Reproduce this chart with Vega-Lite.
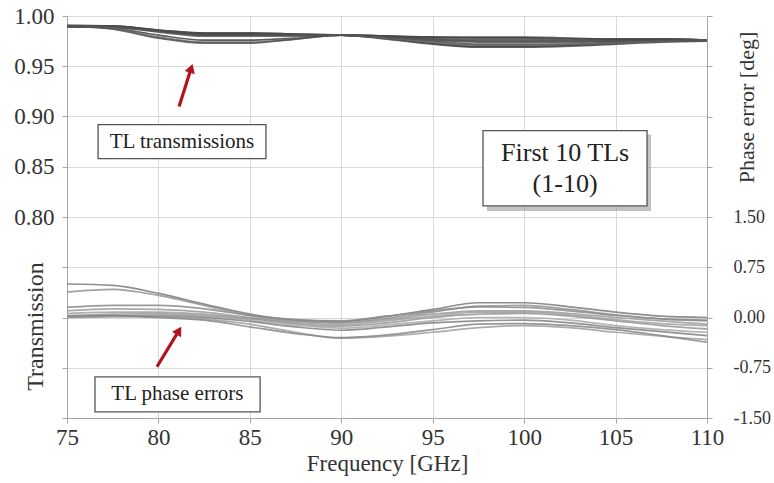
{
  "$schema": "https://vega.github.io/schema/vega-lite/v6.json",
  "width": 640,
  "height": 402,
  "autosize": {"type": "none"},
  "padding": {"left": 67, "top": 16, "right": 67, "bottom": 65},
  "background": "white",
  "config": {
    "view": {"stroke": null},
    "font": "Liberation Serif",
    "axis": {
      "labelFont": "Liberation Serif",
      "titleFont": "Liberation Serif",
      "labelColor": "#333333",
      "titleColor": "#333333",
      "titleFontWeight": "normal",
      "domainColor": "#a6a6a6",
      "tickColor": "#a6a6a6",
      "gridColor": "#d9d9d9",
      "labelFlush": false,
      "labelOverlap": false
    }
  },
  "datasets": {
    "trans": [
      {"f":75,"s":"T1","v":0.990},{"f":77.5,"s":"T1","v":0.990},{"f":80,"s":"T1","v":0.986},{"f":82.5,"s":"T1","v":0.983},{"f":85,"s":"T1","v":0.983},{"f":87.5,"s":"T1","v":0.982},{"f":90,"s":"T1","v":0.981},{"f":92.5,"s":"T1","v":0.980},{"f":95,"s":"T1","v":0.979},{"f":97.5,"s":"T1","v":0.978},{"f":100,"s":"T1","v":0.978},{"f":102.5,"s":"T1","v":0.977},{"f":105,"s":"T1","v":0.977},{"f":107.5,"s":"T1","v":0.977},{"f":110,"s":"T1","v":0.976},
      {"f":75,"s":"T2","v":0.990},{"f":77.5,"s":"T2","v":0.990},{"f":80,"s":"T2","v":0.986},{"f":82.5,"s":"T2","v":0.983},{"f":85,"s":"T2","v":0.983},{"f":87.5,"s":"T2","v":0.982},{"f":90,"s":"T2","v":0.981},{"f":92.5,"s":"T2","v":0.978},{"f":95,"s":"T2","v":0.973},{"f":97.5,"s":"T2","v":0.970},{"f":100,"s":"T2","v":0.970},{"f":102.5,"s":"T2","v":0.971},{"f":105,"s":"T2","v":0.973},{"f":107.5,"s":"T2","v":0.975},{"f":110,"s":"T2","v":0.976},
      {"f":75,"s":"T3","v":0.991},{"f":77.5,"s":"T3","v":0.990},{"f":80,"s":"T3","v":0.985},{"f":82.5,"s":"T3","v":0.982},{"f":85,"s":"T3","v":0.982},{"f":87.5,"s":"T3","v":0.981},{"f":90,"s":"T3","v":0.981},{"f":92.5,"s":"T3","v":0.980},{"f":95,"s":"T3","v":0.977},{"f":97.5,"s":"T3","v":0.976},{"f":100,"s":"T3","v":0.976},{"f":102.5,"s":"T3","v":0.976},{"f":105,"s":"T3","v":0.976},{"f":107.5,"s":"T3","v":0.977},{"f":110,"s":"T3","v":0.976},
      {"f":75,"s":"T4","v":0.990},{"f":77.5,"s":"T4","v":0.990},{"f":80,"s":"T4","v":0.985},{"f":82.5,"s":"T4","v":0.982},{"f":85,"s":"T4","v":0.982},{"f":87.5,"s":"T4","v":0.981},{"f":90,"s":"T4","v":0.981},{"f":92.5,"s":"T4","v":0.977},{"f":95,"s":"T4","v":0.972},{"f":97.5,"s":"T4","v":0.969},{"f":100,"s":"T4","v":0.969},{"f":102.5,"s":"T4","v":0.970},{"f":105,"s":"T4","v":0.972},{"f":107.5,"s":"T4","v":0.974},{"f":110,"s":"T4","v":0.975},
      {"f":75,"s":"T5","v":0.990},{"f":77.5,"s":"T5","v":0.989},{"f":80,"s":"T5","v":0.985},{"f":82.5,"s":"T5","v":0.981},{"f":85,"s":"T5","v":0.981},{"f":87.5,"s":"T5","v":0.981},{"f":90,"s":"T5","v":0.981},{"f":92.5,"s":"T5","v":0.980},{"f":95,"s":"T5","v":0.978},{"f":97.5,"s":"T5","v":0.977},{"f":100,"s":"T5","v":0.977},{"f":102.5,"s":"T5","v":0.976},{"f":105,"s":"T5","v":0.976},{"f":107.5,"s":"T5","v":0.977},{"f":110,"s":"T5","v":0.976},
      {"f":75,"s":"T6","v":0.989},{"f":77.5,"s":"T6","v":0.989},{"f":80,"s":"T6","v":0.985},{"f":82.5,"s":"T6","v":0.981},{"f":85,"s":"T6","v":0.981},{"f":87.5,"s":"T6","v":0.981},{"f":90,"s":"T6","v":0.981},{"f":92.5,"s":"T6","v":0.978},{"f":95,"s":"T6","v":0.975},{"f":97.5,"s":"T6","v":0.972},{"f":100,"s":"T6","v":0.972},{"f":102.5,"s":"T6","v":0.972},{"f":105,"s":"T6","v":0.974},{"f":107.5,"s":"T6","v":0.975},{"f":110,"s":"T6","v":0.976},
      {"f":75,"s":"T7","v":0.990},{"f":77.5,"s":"T7","v":0.989},{"f":80,"s":"T7","v":0.984},{"f":82.5,"s":"T7","v":0.980},{"f":85,"s":"T7","v":0.980},{"f":87.5,"s":"T7","v":0.980},{"f":90,"s":"T7","v":0.981},{"f":92.5,"s":"T7","v":0.979},{"f":95,"s":"T7","v":0.977},{"f":97.5,"s":"T7","v":0.975},{"f":100,"s":"T7","v":0.975},{"f":102.5,"s":"T7","v":0.975},{"f":105,"s":"T7","v":0.975},{"f":107.5,"s":"T7","v":0.976},{"f":110,"s":"T7","v":0.976},
      {"f":75,"s":"T8","v":0.990},{"f":77.5,"s":"T8","v":0.988},{"f":80,"s":"T8","v":0.981},{"f":82.5,"s":"T8","v":0.976},{"f":85,"s":"T8","v":0.976},{"f":87.5,"s":"T8","v":0.978},{"f":90,"s":"T8","v":0.981},{"f":92.5,"s":"T8","v":0.980},{"f":95,"s":"T8","v":0.979},{"f":97.5,"s":"T8","v":0.979},{"f":100,"s":"T8","v":0.979},{"f":102.5,"s":"T8","v":0.978},{"f":105,"s":"T8","v":0.977},{"f":107.5,"s":"T8","v":0.977},{"f":110,"s":"T8","v":0.976},
      {"f":75,"s":"T9","v":0.990},{"f":77.5,"s":"T9","v":0.988},{"f":80,"s":"T9","v":0.979},{"f":82.5,"s":"T9","v":0.974},{"f":85,"s":"T9","v":0.974},{"f":87.5,"s":"T9","v":0.977},{"f":90,"s":"T9","v":0.981},{"f":92.5,"s":"T9","v":0.978},{"f":95,"s":"T9","v":0.974},{"f":97.5,"s":"T9","v":0.971},{"f":100,"s":"T9","v":0.971},{"f":102.5,"s":"T9","v":0.972},{"f":105,"s":"T9","v":0.973},{"f":107.5,"s":"T9","v":0.975},{"f":110,"s":"T9","v":0.976},
      {"f":75,"s":"T10","v":0.990},{"f":77.5,"s":"T10","v":0.987},{"f":80,"s":"T10","v":0.978},{"f":82.5,"s":"T10","v":0.973},{"f":85,"s":"T10","v":0.973},{"f":87.5,"s":"T10","v":0.977},{"f":90,"s":"T10","v":0.981},{"f":92.5,"s":"T10","v":0.979},{"f":95,"s":"T10","v":0.976},{"f":97.5,"s":"T10","v":0.974},{"f":100,"s":"T10","v":0.974},{"f":102.5,"s":"T10","v":0.974},{"f":105,"s":"T10","v":0.975},{"f":107.5,"s":"T10","v":0.976},{"f":110,"s":"T10","v":0.976}
    ],
    "phase": [
      {"f":75,"s":"P1","v":0.50},{"f":77.5,"s":"P1","v":0.48},{"f":80,"s":"P1","v":0.36},{"f":82.5,"s":"P1","v":0.20},{"f":85,"s":"P1","v":0.05},{"f":87.5,"s":"P1","v":-0.04},{"f":90,"s":"P1","v":-0.06},{"f":92.5,"s":"P1","v":0.02},{"f":95,"s":"P1","v":0.12},{"f":97.5,"s":"P1","v":0.22},{"f":100,"s":"P1","v":0.22},{"f":102.5,"s":"P1","v":0.16},{"f":105,"s":"P1","v":0.08},{"f":107.5,"s":"P1","v":0.02},{"f":110,"s":"P1","v":0.00},
      {"f":75,"s":"P2","v":0.38},{"f":77.5,"s":"P2","v":0.42},{"f":80,"s":"P2","v":0.33},{"f":82.5,"s":"P2","v":0.18},{"f":85,"s":"P2","v":0.03},{"f":87.5,"s":"P2","v":-0.05},{"f":90,"s":"P2","v":-0.08},{"f":92.5,"s":"P2","v":-0.01},{"f":95,"s":"P2","v":0.08},{"f":97.5,"s":"P2","v":0.17},{"f":100,"s":"P2","v":0.18},{"f":102.5,"s":"P2","v":0.12},{"f":105,"s":"P2","v":0.04},{"f":107.5,"s":"P2","v":-0.02},{"f":110,"s":"P2","v":-0.05},
      {"f":75,"s":"P3","v":0.15},{"f":77.5,"s":"P3","v":0.18},{"f":80,"s":"P3","v":0.18},{"f":82.5,"s":"P3","v":0.13},{"f":85,"s":"P3","v":0.03},{"f":87.5,"s":"P3","v":-0.03},{"f":90,"s":"P3","v":-0.05},{"f":92.5,"s":"P3","v":0.02},{"f":95,"s":"P3","v":0.10},{"f":97.5,"s":"P3","v":0.16},{"f":100,"s":"P3","v":0.15},{"f":102.5,"s":"P3","v":0.10},{"f":105,"s":"P3","v":0.03},{"f":107.5,"s":"P3","v":-0.02},{"f":110,"s":"P3","v":-0.04},
      {"f":75,"s":"P4","v":0.10},{"f":77.5,"s":"P4","v":0.13},{"f":80,"s":"P4","v":0.12},{"f":82.5,"s":"P4","v":0.08},{"f":85,"s":"P4","v":0.00},{"f":87.5,"s":"P4","v":-0.06},{"f":90,"s":"P4","v":-0.08},{"f":92.5,"s":"P4","v":-0.03},{"f":95,"s":"P4","v":0.05},{"f":97.5,"s":"P4","v":0.10},{"f":100,"s":"P4","v":0.10},{"f":102.5,"s":"P4","v":0.06},{"f":105,"s":"P4","v":0.00},{"f":107.5,"s":"P4","v":-0.05},{"f":110,"s":"P4","v":-0.10},
      {"f":75,"s":"P5","v":0.06},{"f":77.5,"s":"P5","v":0.08},{"f":80,"s":"P5","v":0.08},{"f":82.5,"s":"P5","v":0.05},{"f":85,"s":"P5","v":-0.01},{"f":87.5,"s":"P5","v":-0.07},{"f":90,"s":"P5","v":-0.11},{"f":92.5,"s":"P5","v":-0.05},{"f":95,"s":"P5","v":0.02},{"f":97.5,"s":"P5","v":0.08},{"f":100,"s":"P5","v":0.08},{"f":102.5,"s":"P5","v":0.04},{"f":105,"s":"P5","v":-0.03},{"f":107.5,"s":"P5","v":-0.09},{"f":110,"s":"P5","v":-0.12},
      {"f":75,"s":"P6","v":0.03},{"f":77.5,"s":"P6","v":0.05},{"f":80,"s":"P6","v":0.06},{"f":82.5,"s":"P6","v":0.03},{"f":85,"s":"P6","v":-0.02},{"f":87.5,"s":"P6","v":-0.09},{"f":90,"s":"P6","v":-0.13},{"f":92.5,"s":"P6","v":-0.08},{"f":95,"s":"P6","v":0.00},{"f":97.5,"s":"P6","v":0.05},{"f":100,"s":"P6","v":0.06},{"f":102.5,"s":"P6","v":0.02},{"f":105,"s":"P6","v":-0.05},{"f":107.5,"s":"P6","v":-0.12},{"f":110,"s":"P6","v":-0.17},
      {"f":75,"s":"P7","v":0.01},{"f":77.5,"s":"P7","v":0.03},{"f":80,"s":"P7","v":0.04},{"f":82.5,"s":"P7","v":0.02},{"f":85,"s":"P7","v":-0.04},{"f":87.5,"s":"P7","v":-0.11},{"f":90,"s":"P7","v":-0.16},{"f":92.5,"s":"P7","v":-0.11},{"f":95,"s":"P7","v":-0.05},{"f":97.5,"s":"P7","v":0.00},{"f":100,"s":"P7","v":0.00},{"f":102.5,"s":"P7","v":-0.04},{"f":105,"s":"P7","v":-0.12},{"f":107.5,"s":"P7","v":-0.18},{"f":110,"s":"P7","v":-0.22},
      {"f":75,"s":"P8","v":0.00},{"f":77.5,"s":"P8","v":0.02},{"f":80,"s":"P8","v":0.02},{"f":82.5,"s":"P8","v":0.00},{"f":85,"s":"P8","v":-0.06},{"f":87.5,"s":"P8","v":-0.14},{"f":90,"s":"P8","v":-0.19},{"f":92.5,"s":"P8","v":-0.14},{"f":95,"s":"P8","v":-0.08},{"f":97.5,"s":"P8","v":-0.05},{"f":100,"s":"P8","v":-0.04},{"f":102.5,"s":"P8","v":-0.08},{"f":105,"s":"P8","v":-0.15},{"f":107.5,"s":"P8","v":-0.21},{"f":110,"s":"P8","v":-0.27},
      {"f":75,"s":"P9","v":0.00},{"f":77.5,"s":"P9","v":0.01},{"f":80,"s":"P9","v":0.01},{"f":82.5,"s":"P9","v":-0.02},{"f":85,"s":"P9","v":-0.10},{"f":87.5,"s":"P9","v":-0.22},{"f":90,"s":"P9","v":-0.31},{"f":92.5,"s":"P9","v":-0.28},{"f":95,"s":"P9","v":-0.22},{"f":97.5,"s":"P9","v":-0.15},{"f":100,"s":"P9","v":-0.12},{"f":102.5,"s":"P9","v":-0.15},{"f":105,"s":"P9","v":-0.22},{"f":107.5,"s":"P9","v":-0.28},{"f":110,"s":"P9","v":-0.33},
      {"f":75,"s":"P10","v":0.02},{"f":77.5,"s":"P10","v":0.03},{"f":80,"s":"P10","v":0.00},{"f":82.5,"s":"P10","v":-0.04},{"f":85,"s":"P10","v":-0.14},{"f":87.5,"s":"P10","v":-0.24},{"f":90,"s":"P10","v":-0.30},{"f":92.5,"s":"P10","v":-0.26},{"f":95,"s":"P10","v":-0.18},{"f":97.5,"s":"P10","v":-0.10},{"f":100,"s":"P10","v":-0.09},{"f":102.5,"s":"P10","v":-0.12},{"f":105,"s":"P10","v":-0.18},{"f":107.5,"s":"P10","v":-0.27},{"f":110,"s":"P10","v":-0.37}
    ],
    "boxes": [
      {"x": 76.70, "x2": 85.88, "y": 0.892, "y2": 0.858},
      {"x": 76.53, "x2": 85.56, "y": 0.641, "y2": 0.606},
      {"x": 97.75, "x2": 106.72, "y": 0.886, "y2": 0.811}
    ],
    "shadow": [
      {"x": 97.97, "x2": 106.94, "y": 0.882, "y2": 0.806}
    ],
    "smalltext": [
      {"x": 81.29, "y": 0.875, "t": "TL transmissions"},
      {"x": 81.04, "y": 0.6235, "t": "TL phase errors"}
    ],
    "bigtext": [
      {"x": 102.24, "y": 0.8635, "t": "First 10 TLs\n(1-10)"}
    ],
    "shafts": [
      {"x": 81.13, "y": 0.910, "x2": 81.79, "y2": 0.948},
      {"x": 79.92, "y": 0.651, "x2": 81.12, "y2": 0.687}
    ],
    "head1": [{"x": 81.79, "y": 0.948}],
    "head2": [{"x": 81.12, "y": 0.687}]
  },
  "layer": [
    {
      "layer": [
        {
          "data": {"name": "trans"},
          "mark": {"type": "line", "interpolate": "monotone", "strokeWidth": 1.7, "opacity": 0.85},
          "encoding": {
            "x": {
              "field": "f", "type": "quantitative",
              "scale": {"domain": [75, 110], "nice": false, "zero": false},
              "axis": {
                "title": "Frequency [GHz]",
                "values": [75, 80, 85, 90, 95, 100, 105, 110],
                "format": "d",
                "grid": true,
                "labelFont": "Liberation Serif",
                "titleFont": "Liberation Serif",
                "labelFontSize": 23,
                "titleFontSize": 23,
                "tickSize": 5,
                "labelPadding": 3,
                "titlePadding": 3
              }
            },
            "y": {
              "field": "v", "type": "quantitative",
              "scale": {"domain": [0.6, 1.0], "nice": false, "zero": false},
              "axis": {
                "title": "Transmission",
                "values": [0.6, 0.65, 0.7, 0.75, 0.8, 0.85, 0.9, 0.95, 1.0],
                "labelExpr": "datum.value > 0.79 ? format(datum.value, '.2f') : ''",
                "grid": true,
                "labelFont": "Liberation Serif",
                "titleFont": "Liberation Serif",
                "labelFontSize": 23,
                "titleFontSize": 24,
                "tickSize": 5,
                "labelPadding": 8,
                "titleX": -32,
                "titleY": 310,
                "titleAngle": -90,
                "titleBaseline": "middle",
                "titleAlign": "center"
              }
            },
            "color": {
              "field": "s", "type": "nominal", "legend": null,
              "scale": {"range": ["#3a3a3a", "#505050", "#464646", "#5a5a5a", "#404040", "#606060", "#4b4b4b", "#555555", "#3f3f3f", "#686868"]}
            }
          }
        },
        {
          "data": {"name": "shadow"},
          "mark": {"type": "rect", "fill": "#9a9a9a", "opacity": 0.6},
          "encoding": {
            "x": {"field": "x", "type": "quantitative", "scale": {"domain": [75, 110]}},
            "x2": {"field": "x2"},
            "y": {"field": "y", "type": "quantitative", "scale": {"domain": [0.6, 1.0]}},
            "y2": {"field": "y2"}
          }
        },
        {
          "data": {"name": "boxes"},
          "mark": {"type": "rect", "fill": "white", "stroke": "#555555", "strokeWidth": 1.3},
          "encoding": {
            "x": {"field": "x", "type": "quantitative", "scale": {"domain": [75, 110]}},
            "x2": {"field": "x2"},
            "y": {"field": "y", "type": "quantitative", "scale": {"domain": [0.6, 1.0]}},
            "y2": {"field": "y2"}
          }
        },
        {
          "data": {"name": "smalltext"},
          "mark": {"type": "text", "font": "Liberation Serif", "fontSize": 21, "color": "#222222", "baseline": "middle", "align": "center"},
          "encoding": {
            "x": {"field": "x", "type": "quantitative", "scale": {"domain": [75, 110]}},
            "y": {"field": "y", "type": "quantitative", "scale": {"domain": [0.6, 1.0]}},
            "text": {"field": "t"}
          }
        },
        {
          "data": {"name": "bigtext"},
          "mark": {"type": "text", "font": "Liberation Serif", "fontSize": 26, "lineHeight": 31, "lineBreak": "\n", "color": "#222222", "baseline": "middle", "align": "center"},
          "encoding": {
            "x": {"field": "x", "type": "quantitative", "scale": {"domain": [75, 110]}},
            "y": {"field": "y", "type": "quantitative", "scale": {"domain": [0.6, 1.0]}},
            "text": {"field": "t"}
          }
        },
        {
          "data": {"name": "shafts"},
          "mark": {"type": "rule", "color": "#b3141c", "strokeWidth": 3.2},
          "encoding": {
            "x": {"field": "x", "type": "quantitative", "scale": {"domain": [75, 110]}},
            "x2": {"field": "x2"},
            "y": {"field": "y", "type": "quantitative", "scale": {"domain": [0.6, 1.0]}},
            "y2": {"field": "y2"}
          }
        },
        {
          "data": {"name": "head1"},
          "mark": {"type": "point", "shape": "triangle-up", "filled": true, "color": "#b3141c", "opacity": 1, "size": 110, "angle": 18},
          "encoding": {
            "x": {"field": "x", "type": "quantitative", "scale": {"domain": [75, 110]}},
            "y": {"field": "y", "type": "quantitative", "scale": {"domain": [0.6, 1.0]}}
          }
        },
        {
          "data": {"name": "head2"},
          "mark": {"type": "point", "shape": "triangle-up", "filled": true, "color": "#b3141c", "opacity": 1, "size": 110, "angle": 31},
          "encoding": {
            "x": {"field": "x", "type": "quantitative", "scale": {"domain": [75, 110]}},
            "y": {"field": "y", "type": "quantitative", "scale": {"domain": [0.6, 1.0]}}
          }
        }
      ]
    },
    {
      "data": {"name": "phase"},
      "mark": {"type": "line", "interpolate": "monotone", "strokeWidth": 1.7, "opacity": 0.85},
      "encoding": {
        "x": {"field": "f", "type": "quantitative", "scale": {"domain": [75, 110], "nice": false, "zero": false}},
        "y": {
          "field": "v", "type": "quantitative",
          "scale": {"domain": [-1.5, 4.5], "nice": false, "zero": false},
          "axis": {
            "orient": "right",
            "title": "Phase error [deg]",
            "values": [-1.5, -0.75, 0, 0.75, 1.5, 2.25, 3, 3.75, 4.5],
            "labelExpr": "datum.value < 1.6 ? (datum.value < 0 ? '-' + format(-datum.value, '.2f') : format(datum.value, '.2f')) : ''",
            "grid": false,
            "labelFont": "Liberation Serif",
            "titleFont": "Liberation Serif",
            "labelFontSize": 18,
            "titleFontSize": 22,
            "tickSize": 5,
            "labelPadding": 21,
            "titleX": 39,
            "titleY": 91,
            "titleAngle": -90,
            "titleBaseline": "middle",
            "titleAlign": "center"
          }
        },
        "color": {
          "field": "s", "type": "nominal", "legend": null,
          "scale": {"range": ["#7a7a7a", "#858585", "#909090", "#8a8a8a", "#9a9a9a", "#a0a0a0", "#959595", "#a8a8a8", "#808080", "#9d9d9d"]}
        }
      }
    }
  ],
  "resolve": {"scale": {"y": "independent", "color": "independent"}}
}
